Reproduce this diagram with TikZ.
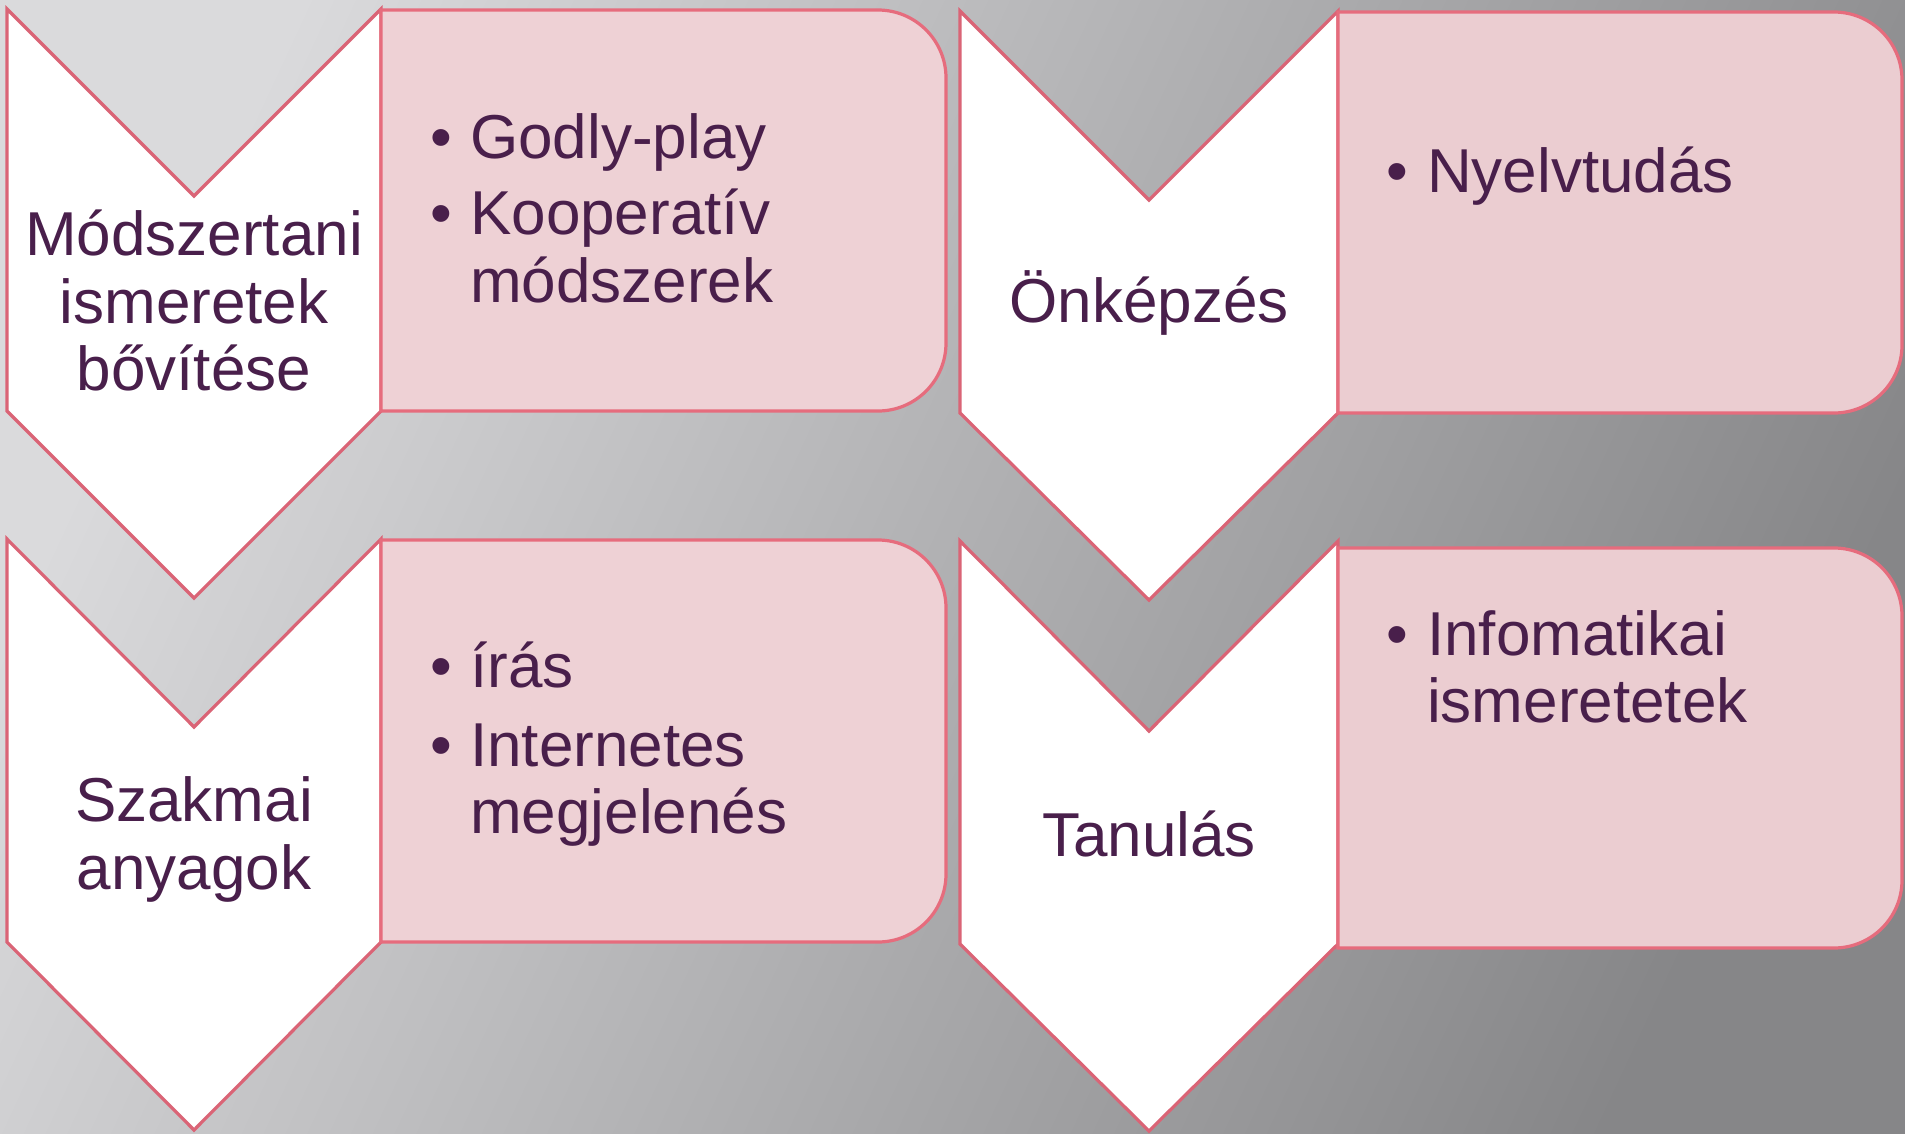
\documentclass[tikz,border=0pt]{standalone}
\usepackage{fontspec}
\setmainfont{Liberation Sans}
\definecolor{bgA}{RGB}{218,218,220}
\definecolor{bgD}{RGB}{134,134,136}
\definecolor{chevline}{RGB}{218,100,118}
\definecolor{boxline}{RGB}{230,108,125}
\definecolor{boxfill}{RGB}{238,209,213}
\definecolor{boxfillB}{RGB}{235,205,209}
\definecolor{txt}{RGB}{73,31,75}
\tikzset{
  chev/.style={fill=white, draw=chevline, line width=3.2pt, line join=miter},
  rbox/.style={fill=boxfill, draw=boxline, line width=3.2pt},
  rboxB/.style={fill=boxfillB, draw=boxline, line width=3.2pt},
  lbl/.style={text=txt, inner sep=0pt, anchor=base, font=\fontsize{62}{68}\selectfont},
  itm/.style={text=txt, inner sep=0pt, anchor=base west, font=\fontsize{62}{68}\selectfont},
  bul/.style={text=txt, inner sep=0pt, anchor=base, font=\fontsize{62}{68}\selectfont}
}
\begin{document}
\begin{tikzpicture}[x=1pt,y=-1pt]
\useasboundingbox (0,0) rectangle (1905,1133);
\shade[left color=bgA, right color=bgD, shading angle=65] (0,0) rectangle (1905,1133);

% chevrons
\draw[chev] (7,9) -- (194,196) -- (381,9) -- (381,411) -- (194,598) -- (7,411) -- cycle;
\draw[chev] (7,539) -- (194,727) -- (381,539) -- (381,942) -- (194,1130) -- (7,942) -- cycle;
\draw[chev] (960,11) -- (1149,200) -- (1338,11) -- (1338,413) -- (1149,600) -- (960,413) -- cycle;
\draw[chev] (960,541) -- (1149,731) -- (1338,541) -- (1338,944) -- (1149,1131) -- (960,944) -- cycle;

% boxes (right corners rounded, r = 68)
\draw[rbox] (381,10) -- (878,10) .. controls (915.5,10) and (946,40.5) .. (946,78)
  -- (946,343) .. controls (946,380.5) and (915.5,411) .. (878,411) -- (381,411) -- cycle;
\draw[rbox] (381,540) -- (878,540) .. controls (915.5,540) and (946,570.5) .. (946,608)
  -- (946,874) .. controls (946,911.5) and (915.5,942) .. (878,942) -- (381,942) -- cycle;
\draw[rboxB] (1338,12) -- (1834,12) .. controls (1871.5,12) and (1902,42.5) .. (1902,80)
  -- (1902,345) .. controls (1902,382.5) and (1871.5,413) .. (1834,413) -- (1338,413) -- cycle;
\draw[rboxB] (1338,548) -- (1834,548) .. controls (1871.5,548) and (1902,578.5) .. (1902,616)
  -- (1902,880) .. controls (1902,917.5) and (1871.5,948) .. (1834,948) -- (1338,948) -- cycle;

% chevron labels
\node[lbl] (m1) at (194,255) {Módszertani};
\node[lbl] (m2) at (194,323) {ismeretek};
\node[lbl] (m3) at (194,390) {bővítése};
\node[lbl] (o1) at (1149,322) {Önképzés};
\node[lbl] (s1) at (194,821) {Szakmai};
\node[lbl] (s2) at (194,889) {anyagok};
\node[lbl] (t1) at (1149,856) {Tanulás};

% box items
\node[bul] (b1) at (441,158) {•};
\node[itm] (g1) at (470,158) {Godly-play};
\node[bul] (b2) at (441,234.5) {•};
\node[itm] (k1) at (470,234.5) {Kooperatív};
\node[itm] (k2) at (470,302.5) {módszerek};

\node[bul] (b3) at (1397,192) {•};
\node[itm] (n1) at (1427,192) {Nyelvtudás};

\node[bul] (b4) at (441,687) {•};
\node[itm] (i1) at (470,687) {írás};
\node[bul] (b5) at (441,766) {•};
\node[itm] (i2) at (470,766) {Internetes};
\node[itm] (i3) at (470,833) {megjelenés};

\node[bul] (b6) at (1397,655) {•};
\node[itm] (f1) at (1427,655) {Infomatikai};
\node[itm] (f2) at (1427,722) {ismeretetek};
\end{tikzpicture}
\end{document}
